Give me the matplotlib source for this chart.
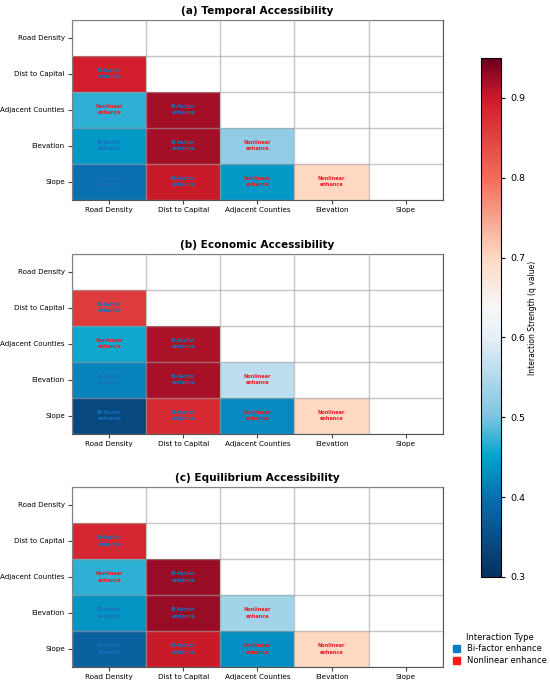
import numpy as np
import matplotlib
matplotlib.use("Agg")
import matplotlib.pyplot as plt
from matplotlib.colors import LinearSegmentedColormap
from matplotlib.patches import Patch

# ---------------------------------------------------------------- data
factors = ["Road Density", "Dist to Capital", "Adjacent Counties", "Elevation", "Slope"]
titles = ["(a) Temporal Accessibility", "(b) Economic Accessibility",
          "(c) Equilibrium Accessibility"]

# lower-triangle q values, row-major: (1,0), (2,0), (2,1), (3,0), (3,1), (3,2), (4,0), (4,1), (4,2), (4,3)
q_temporal = [0.895, 0.47, 0.92, 0.44, 0.92, 0.52, 0.40, 0.90, 0.44, 0.70]
q_economic = [0.86, 0.455, 0.915, 0.42, 0.918, 0.56, 0.34, 0.88, 0.425, 0.70]
q_equilib = [0.885, 0.47, 0.925, 0.435, 0.925, 0.535, 0.38, 0.90, 0.43, 0.70]
# B = Bi-factor enhance, N = Nonlinear enhance
types = ["B", "N", "B", "B", "B", "N", "B", "B", "N", "N"]

VMIN, VMAX = 0.3, 0.95
BLUE, RED = "#1a6fb8", "#ee1c25"

cmap = LinearSegmentedColormap.from_list("q", [
    (0.00, "#053061"), (0.154, "#0a6fb0"), (0.23, "#00a3cc"), (0.308, "#7cc4e2"),
    (0.46, "#e6eff5"), (0.52, "#f7f7f7"), (0.615, "#fdd9c4"), (0.77, "#f26d58"),
    (0.92, "#d01c2b"), (1.00, "#6d0020")])


def to_matrix(vals):
    m = np.full((5, 5), np.nan)
    k = 0
    for i in range(1, 5):
        for j in range(i):
            m[i, j] = vals[k]
            k += 1
    return m


fig = plt.figure(figsize=(5.5, 6.82), dpi=100)
boxes = [(0.131, 0.707, 0.674, 0.264), (0.131, 0.364, 0.674, 0.264),
         (0.131, 0.022, 0.674, 0.264)]

edges = np.arange(-0.5, 5, 1)
for box, title, vals in zip(boxes, titles, [q_temporal, q_economic, q_equilib]):
    ax = fig.add_axes(box)
    m = to_matrix(vals)
    im = ax.pcolormesh(edges, edges, np.ma.masked_invalid(m), cmap=cmap,
                       vmin=VMIN, vmax=VMAX, edgecolors="none")
    ax.set_xlim(-0.5, 4.5)
    ax.set_ylim(4.5, -0.5)
    k = 0
    for i in range(1, 5):
        for j in range(i):
            if types[k] == "B":
                txt, col = "Bi-factor\nenhance", BLUE
            else:
                txt, col = "Nonlinear\nenhance", RED
            ax.text(j, i, txt, ha="center", va="center", fontsize=3.6,
                    fontweight="bold", color=col, linespacing=1.3)
            k += 1
    ax.set_xticks(range(5))
    ax.set_xticklabels(factors, fontsize=5.2)
    ax.set_yticks(range(5))
    ax.set_yticklabels(factors, fontsize=5.1)
    ax.set_xticks(edges, minor=True)
    ax.set_yticks(edges, minor=True)
    ax.grid(which="minor", color="#a0a0a0", alpha=0.6, lw=1.0)
    ax.set_axisbelow(False)
    ax.tick_params(which="minor", length=0)
    ax.tick_params(which="major", length=3, width=0.8, color="#444444", pad=2.2)
    for s in ax.spines.values():
        s.set_color("#555555")
    ax.set_title(title, fontsize=7.6, fontweight="bold", pad=4)

cax = fig.add_axes([0.875, 0.154, 0.036, 0.761])
cb = fig.colorbar(im, cax=cax)
cb.set_ticks([0.3, 0.4, 0.5, 0.6, 0.7, 0.8, 0.9])
cb.ax.tick_params(labelsize=6.8, length=3, width=0.8)
cb.outline.set_linewidth(0.8)
cb.set_label("Interaction Strength (q value)", fontsize=5.5, labelpad=2)

handles = [Patch(color="#0a7cc4", label="Bi-factor enhance"),
           Patch(color="#ff1a1a", label="Nonlinear enhance")]
fig.legend(handles=handles, title="Interaction Type", loc="lower right",
           bbox_to_anchor=(1.008, 0.014), frameon=False, fontsize=6.0,
           title_fontsize=6.0, handlelength=0.9, handleheight=0.9,
           handletextpad=0.8, labelspacing=0.3)

fig.savefig("out.png", dpi=100)
